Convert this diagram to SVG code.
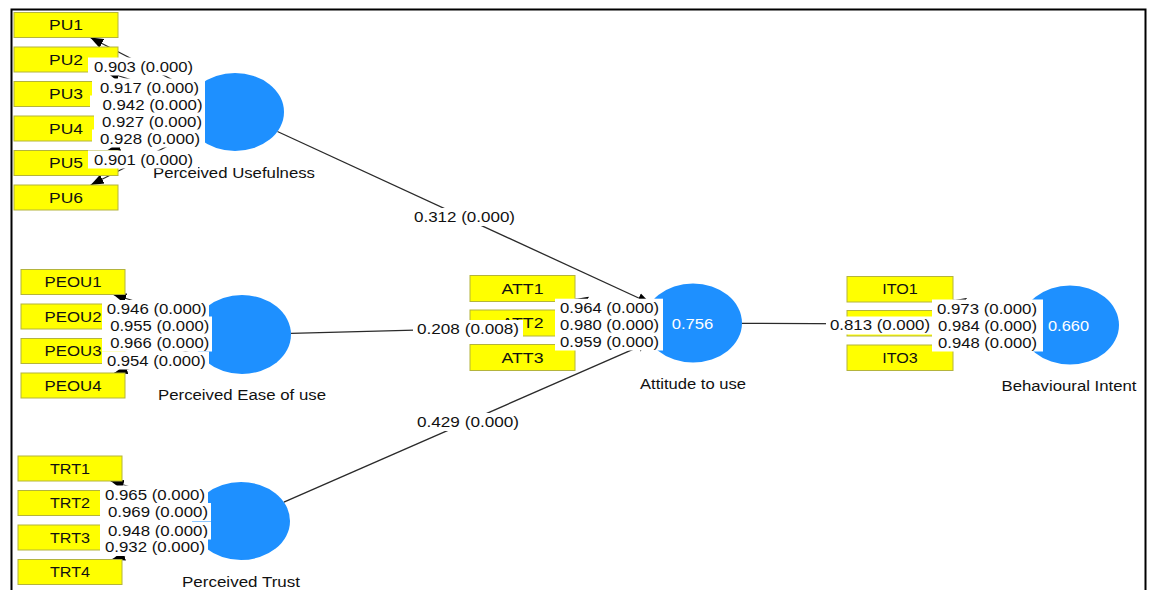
<svg xmlns="http://www.w3.org/2000/svg" width="1149" height="590" viewBox="0 0 1149 590">
<style>
.ln{stroke:#2a2a2a;stroke-width:1.3;fill:none}
.ind{fill:#ffff00;stroke:#b4b43c;stroke-width:1}
.lv{fill:#1e90ff}
.bx{fill:#ffffff}
text{font-family:"Liberation Sans",Arial,sans-serif;fill:#111}
.it{font-size:14px;text-anchor:middle}
.nm{font-size:15px;text-anchor:middle}
.cn{font-size:14px;text-anchor:middle}
.r2{font-size:15px;text-anchor:middle;fill:#ffffff}
</style>
<defs>
<marker id="arr" markerWidth="14" markerHeight="12" refX="13" refY="6" orient="auto" markerUnits="userSpaceOnUse"><path d="M0,1 L13,6 L0,11 z" fill="#000"/></marker>
</defs>
<rect x="0" y="0" width="1149" height="590" fill="#ffffff"/>
<path d="M11.5,590 V9.5 H1145.5 V590" fill="none" stroke="#000" stroke-width="2"/>

<g id="connectors">
<line class="ln" x1="235" y1="112" x2="90.3" y2="37.5" marker-end="url(#arr)"/>
<line class="ln" x1="235" y1="112" x2="106.2" y2="72" marker-end="url(#arr)"/>
<line class="ln" x1="235" y1="112" x2="118" y2="99.5" marker-end="url(#arr)"/>
<line class="ln" x1="235" y1="112" x2="118" y2="123.4" marker-end="url(#arr)"/>
<line class="ln" x1="235" y1="112" x2="107.4" y2="150.5" marker-end="url(#arr)"/>
<line class="ln" x1="235" y1="112" x2="90.7" y2="185" marker-end="url(#arr)"/>
<line class="ln" x1="242" y1="334.5" x2="113.2" y2="294.5" marker-end="url(#arr)"/>
<line class="ln" x1="242" y1="334.5" x2="125" y2="322" marker-end="url(#arr)"/>
<line class="ln" x1="242" y1="334.5" x2="125" y2="345.9" marker-end="url(#arr)"/>
<line class="ln" x1="242" y1="334.5" x2="114.4" y2="373" marker-end="url(#arr)"/>
<line class="ln" x1="241" y1="521" x2="110.7" y2="481" marker-end="url(#arr)"/>
<line class="ln" x1="241" y1="521" x2="122" y2="508.5" marker-end="url(#arr)"/>
<line class="ln" x1="241" y1="521" x2="122" y2="532.5" marker-end="url(#arr)"/>
<line class="ln" x1="241" y1="521" x2="112" y2="559.5" marker-end="url(#arr)"/>
<line class="ln" x1="693" y1="323" x2="575" y2="299.1" marker-end="url(#arr)"/>
<line class="ln" x1="693" y1="323" x2="575" y2="323" marker-end="url(#arr)"/>
<line class="ln" x1="693" y1="323" x2="575" y2="346.9" marker-end="url(#arr)"/>
<line class="ln" x1="1070" y1="325" x2="953" y2="300.2" marker-end="url(#arr)"/>
<line class="ln" x1="1070" y1="325" x2="953" y2="323.6" marker-end="url(#arr)"/>
<line class="ln" x1="1070" y1="325" x2="953" y2="347.4" marker-end="url(#arr)"/>
<line class="ln" x1="277.4" y1="131.5" x2="650.6" y2="303.5" marker-end="url(#arr)"/>
<line class="ln" x1="291" y1="333.3" x2="644" y2="324.2" marker-end="url(#arr)"/>
<line class="ln" x1="283.9" y1="502.2" x2="650.1" y2="341.8" marker-end="url(#arr)"/>
<line class="ln" x1="742" y1="323.3" x2="1021" y2="324.7" marker-end="url(#arr)"/>
</g>

<g id="perceived-usefulness">
<ellipse class="lv" cx="235" cy="112" rx="49" ry="39"/>
<text class="cn" x="234" y="178" textLength="162" lengthAdjust="spacingAndGlyphs">Perceived Usefulness</text>
</g>
<g id="perceived-ease-of-use">
<ellipse class="lv" cx="242" cy="334.5" rx="49" ry="39.5"/>
<text class="cn" x="242" y="400" textLength="168" lengthAdjust="spacingAndGlyphs">Perceived Ease of use</text>
</g>
<g id="perceived-trust">
<ellipse class="lv" cx="241" cy="521" rx="49" ry="39"/>
<text class="cn" x="241" y="586.5" textLength="118" lengthAdjust="spacingAndGlyphs">Perceived Trust</text>
</g>
<g id="attitude-to-use">
<ellipse class="lv" cx="693" cy="323" rx="49" ry="39.5"/>
<text class="cn" x="693" y="389" textLength="106" lengthAdjust="spacingAndGlyphs">Attitude to use</text>
</g>
<g id="behavioural-intent">
<ellipse class="lv" cx="1070" cy="325" rx="49" ry="39.5"/>
<text class="cn" x="1069" y="390.5" textLength="135" lengthAdjust="spacingAndGlyphs">Behavioural Intent</text>
</g>

<g id="PU1"><rect class="ind" x="14" y="12.5" width="104" height="25"/><text class="it" x="66" y="30" textLength="34" lengthAdjust="spacingAndGlyphs">PU1</text></g>
<g id="PU2"><rect class="ind" x="14" y="47" width="104" height="25"/><text class="it" x="66" y="64.5" textLength="34" lengthAdjust="spacingAndGlyphs">PU2</text></g>
<g id="PU3"><rect class="ind" x="14" y="81.5" width="104" height="25"/><text class="it" x="66" y="99" textLength="34" lengthAdjust="spacingAndGlyphs">PU3</text></g>
<g id="PU4"><rect class="ind" x="14" y="116" width="104" height="25"/><text class="it" x="66" y="133.5" textLength="34" lengthAdjust="spacingAndGlyphs">PU4</text></g>
<g id="PU5"><rect class="ind" x="14" y="150.5" width="104" height="25"/><text class="it" x="66" y="168" textLength="34" lengthAdjust="spacingAndGlyphs">PU5</text></g>
<g id="PU6"><rect class="ind" x="14" y="185" width="104" height="25"/><text class="it" x="66" y="202.5" textLength="34" lengthAdjust="spacingAndGlyphs">PU6</text></g>

<g id="PEOU1"><rect class="ind" x="21" y="269.5" width="104" height="25"/><text class="it" x="73" y="287" textLength="57" lengthAdjust="spacingAndGlyphs">PEOU1</text></g>
<g id="PEOU2"><rect class="ind" x="21" y="304" width="104" height="25"/><text class="it" x="73" y="321.5" textLength="57" lengthAdjust="spacingAndGlyphs">PEOU2</text></g>
<g id="PEOU3"><rect class="ind" x="21" y="338.5" width="104" height="25"/><text class="it" x="73" y="356" textLength="57" lengthAdjust="spacingAndGlyphs">PEOU3</text></g>
<g id="PEOU4"><rect class="ind" x="21" y="373" width="104" height="25"/><text class="it" x="73" y="390.5" textLength="57" lengthAdjust="spacingAndGlyphs">PEOU4</text></g>

<g id="TRT1"><rect class="ind" x="18" y="456" width="104" height="25"/><text class="it" x="70" y="473.5" textLength="40" lengthAdjust="spacingAndGlyphs">TRT1</text></g>
<g id="TRT2"><rect class="ind" x="18" y="490.5" width="104" height="25"/><text class="it" x="70" y="508" textLength="40" lengthAdjust="spacingAndGlyphs">TRT2</text></g>
<g id="TRT3"><rect class="ind" x="18" y="525" width="104" height="25"/><text class="it" x="70" y="542.5" textLength="40" lengthAdjust="spacingAndGlyphs">TRT3</text></g>
<g id="TRT4"><rect class="ind" x="18" y="559.5" width="104" height="25"/><text class="it" x="70" y="577" textLength="40" lengthAdjust="spacingAndGlyphs">TRT4</text></g>

<g id="ATT1"><rect class="ind" x="470" y="275.5" width="105" height="26"/><text class="it" x="522.5" y="293.5" textLength="42" lengthAdjust="spacingAndGlyphs">ATT1</text></g>
<g id="ATT2"><rect class="ind" x="470" y="310" width="105" height="26"/><text class="it" x="522.5" y="328" textLength="42" lengthAdjust="spacingAndGlyphs">ATT2</text></g>
<g id="ATT3"><rect class="ind" x="470" y="344.5" width="105" height="26"/><text class="it" x="522.5" y="362.5" textLength="42" lengthAdjust="spacingAndGlyphs">ATT3</text></g>

<g id="ITO1"><rect class="ind" x="847" y="276.5" width="106" height="25.5"/><text class="it" x="900" y="294.3" textLength="35.5" lengthAdjust="spacingAndGlyphs">ITO1</text></g>
<g id="ITO2"><rect class="ind" x="847" y="310.5" width="106" height="25.5"/><text class="it" x="900" y="328.3" textLength="35.5" lengthAdjust="spacingAndGlyphs">ITO2</text></g>
<g id="ITO3"><rect class="ind" x="847" y="345" width="106" height="25.5"/><text class="it" x="900" y="362.8" textLength="35.5" lengthAdjust="spacingAndGlyphs">ITO3</text></g>

<g id="labels">
<rect class="bx" x="88" y="57.5" width="110" height="18"/>
<text class="nm" x="143.5" y="71.5" textLength="99" lengthAdjust="spacingAndGlyphs">0.903 (0.000)</text>
<rect class="bx" x="92" y="78.5" width="113" height="18"/>
<text class="nm" x="149.5" y="92.8" textLength="99" lengthAdjust="spacingAndGlyphs">0.917 (0.000)</text>
<rect class="bx" x="90" y="95.5" width="115" height="18"/>
<text class="nm" x="152.5" y="109.8" textLength="100" lengthAdjust="spacingAndGlyphs">0.942 (0.000)</text>
<rect class="bx" x="94" y="112.5" width="111" height="18"/>
<text class="nm" x="152" y="126.8" textLength="100" lengthAdjust="spacingAndGlyphs">0.927 (0.000)</text>
<rect class="bx" x="92" y="129.5" width="113" height="18"/>
<text class="nm" x="150" y="143.8" textLength="100" lengthAdjust="spacingAndGlyphs">0.928 (0.000)</text>
<rect class="bx" x="88" y="150.5" width="110" height="18"/>
<text class="nm" x="143.5" y="164.8" textLength="99" lengthAdjust="spacingAndGlyphs">0.901 (0.000)</text>

<rect class="bx" x="102" y="300" width="107" height="18"/>
<text class="nm" x="156.7" y="314.4" textLength="100" lengthAdjust="spacingAndGlyphs">0.946 (0.000)</text>
<rect class="bx" x="102" y="316.5" width="110" height="18"/>
<text class="nm" x="159.7" y="330.9" textLength="99" lengthAdjust="spacingAndGlyphs">0.955 (0.000)</text>
<rect class="bx" x="102" y="333.5" width="110" height="18"/>
<text class="nm" x="159.7" y="347.9" textLength="99" lengthAdjust="spacingAndGlyphs">0.966 (0.000)</text>
<rect class="bx" x="102" y="351.5" width="107" height="18"/>
<text class="nm" x="156.4" y="366.2" textLength="99" lengthAdjust="spacingAndGlyphs">0.954 (0.000)</text>

<rect class="bx" x="100" y="485.5" width="108" height="18"/>
<text class="nm" x="155" y="500" textLength="100" lengthAdjust="spacingAndGlyphs">0.965 (0.000)</text>
<rect class="bx" x="100" y="503" width="111" height="18"/>
<text class="nm" x="158" y="517.4" textLength="100" lengthAdjust="spacingAndGlyphs">0.969 (0.000)</text>
<rect class="bx" x="100" y="521.5" width="111" height="18"/>
<text class="nm" x="158" y="535.9" textLength="100" lengthAdjust="spacingAndGlyphs">0.948 (0.000)</text>
<rect class="bx" x="100" y="538" width="108" height="18"/>
<text class="nm" x="155" y="552.4" textLength="100" lengthAdjust="spacingAndGlyphs">0.932 (0.000)</text>

<rect class="bx" x="555" y="298.7" width="108" height="18"/>
<text class="nm" x="609.5" y="313.1" textLength="99" lengthAdjust="spacingAndGlyphs">0.964 (0.000)</text>
<rect class="bx" x="555" y="315.5" width="108" height="18"/>
<text class="nm" x="609.5" y="329.9" textLength="99" lengthAdjust="spacingAndGlyphs">0.980 (0.000)</text>
<rect class="bx" x="555" y="332.5" width="108" height="18"/>
<text class="nm" x="609.5" y="346.9" textLength="99" lengthAdjust="spacingAndGlyphs">0.959 (0.000)</text>

<rect class="bx" x="932" y="299.5" width="111" height="18"/>
<text class="nm" x="987" y="313.9" textLength="100" lengthAdjust="spacingAndGlyphs">0.973 (0.000)</text>
<rect class="bx" x="932" y="316.5" width="111" height="18"/>
<text class="nm" x="987.5" y="330.9" textLength="99" lengthAdjust="spacingAndGlyphs">0.984 (0.000)</text>
<rect class="bx" x="932" y="333.5" width="111" height="18"/>
<text class="nm" x="987.5" y="347.9" textLength="99" lengthAdjust="spacingAndGlyphs">0.948 (0.000)</text>

<rect class="bx" x="409" y="208" width="111" height="18"/>
<text class="nm" x="464.5" y="222.4" textLength="101" lengthAdjust="spacingAndGlyphs">0.312 (0.000)</text>
<rect class="bx" x="413" y="320" width="110" height="18"/>
<text class="nm" x="468" y="334.4" textLength="102" lengthAdjust="spacingAndGlyphs">0.208 (0.008)</text>
<rect class="bx" x="413" y="413" width="110" height="18"/>
<text class="nm" x="468" y="427.4" textLength="102" lengthAdjust="spacingAndGlyphs">0.429 (0.000)</text>
<rect class="bx" x="826" y="316.5" width="106" height="18"/>
<text class="nm" x="880" y="330.4" textLength="100" lengthAdjust="spacingAndGlyphs">0.813 (0.000)</text>

<text class="r2" x="692.5" y="329.3" textLength="41.6" lengthAdjust="spacingAndGlyphs">0.756</text>
<text class="r2" x="1068.5" y="331" textLength="41" lengthAdjust="spacingAndGlyphs">0.660</text>
</g>
</svg>
